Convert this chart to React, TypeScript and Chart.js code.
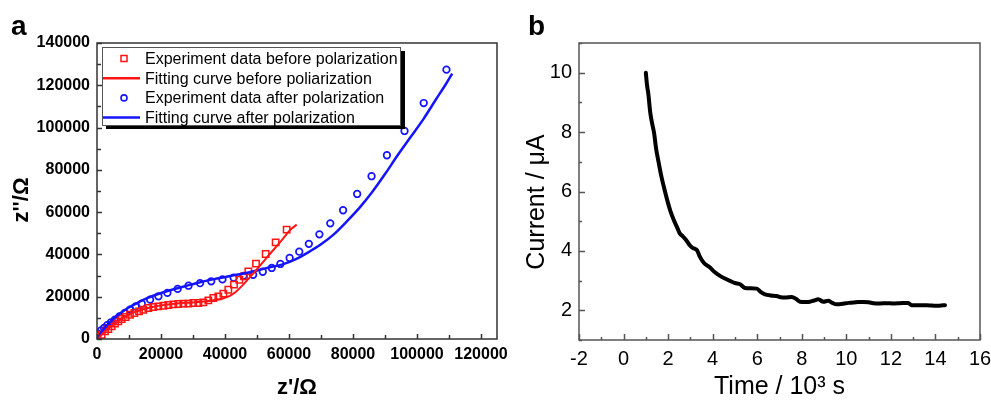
import React, { useEffect, useRef } from "react";
import { Chart, registerables } from "chart.js";

Chart.register(...registerables);

const FONT = "'Liberation Sans', Arial, Helvetica, sans-serif";
const RED = "rgb(255,20,20)";
const BLUE = "rgb(20,20,255)";

// ---------- Panel a : Nyquist plot (Ω) ----------
const aBeforeExp: [number, number][] = [
  [1460, 2030], [2500, 3610], [3540, 4720], [4580, 5980], [5630, 7240], [6670, 8340],
  [7710, 9450], [8960, 10390], [10310, 11490], [11670, 12280], [13130, 13070], [14480, 13860],
  [16040, 14650], [17600, 15120], [19170, 15440], [20730, 15750], [22290, 16070], [23850, 16380],
  [25420, 16540], [26980, 16700], [28540, 16700], [30100, 17010], [31670, 17010], [33230, 17330],
  [34790, 18270], [36350, 19380], [37920, 20170], [39480, 21430], [41040, 23320], [42810, 25690],
  [44480, 28050], [45940, 29630], [47290, 31990], [49690, 35620], [52710, 40190], [55830, 45710],
  [59270, 51700],
];
const aBeforeFit: [number, number][] = [
  [400, 0], [1500, 2200], [3000, 4300], [6000, 7800], [9500, 11200], [13500, 13600],
  [17000, 15000], [20000, 15900], [25000, 16800], [30000, 17300], [34000, 17800], [37000, 18400],
  [39500, 19300], [41500, 20400], [43500, 22500], [45700, 25700], [47800, 29300], [50000, 33000],
  [52000, 36600], [54000, 40200], [56100, 43800], [58200, 47600], [60300, 51500], [62400, 54100],
];
const aAfterExp: [number, number][] = [
  [400, 2500], [1250, 4100], [2200, 5200], [3200, 6500], [4400, 7900], [5600, 9100],
  [7000, 10700], [8700, 12300], [10300, 13900], [12100, 15400], [14000, 16700], [16600, 18600],
  [19200, 20200], [22000, 21800], [25200, 23700], [28600, 25200], [32200, 26400], [35700, 27300],
  [39200, 28200], [42700, 29000], [45800, 29900], [48800, 30400], [51800, 31800], [54600, 33600],
  [57300, 35500], [60200, 38300], [63200, 41300], [66200, 45000], [69500, 49500], [72900, 54700],
  [76900, 60900], [81300, 68600], [85800, 77000], [90600, 86900], [96100, 98400], [102100, 111600],
  [109200, 127400],
];
const aAfterFit: [number, number][] = [
  [0, 0], [400, 500], [1200, 2800], [2500, 5500], [4000, 7900], [5600, 10200], [7500, 12400],
  [9800, 14800], [12500, 17000], [15000, 18900], [18000, 20700], [21000, 22200], [24500, 23800],
  [28000, 25200], [31000, 26400], [34000, 27500], [38000, 28700], [42000, 29900], [46000, 31000],
  [50000, 32400], [54000, 33900], [58000, 35300], [62000, 37700], [66000, 41000], [70000, 44800],
  [74000, 49500], [78000, 55500], [82000, 62000], [86000, 69500], [90000, 78000], [94000, 87000],
  [98000, 95500], [102000, 104000], [106000, 113500], [109000, 120500], [111000, 125500],
];
const aXTicks = [0, 20000, 40000, 60000, 80000, 100000, 120000];
const aYTicks = [0, 20000, 40000, 60000, 80000, 100000, 120000, 140000];
const aLegendLabels = [
  "Experiment data before polarization",
  "Fitting curve before poliarization",
  "Experiment data after polarization",
  "Fitting curve after polarization",
];

// ---------- Panel b : current vs time ----------
const bTime = [
  1.0, 1.05, 1.11, 1.2, 1.28, 1.37, 1.46, 1.57, 1.7, 1.86, 2.0, 2.1, 2.25, 2.4, 2.53, 2.65, 2.76,
  2.87, 2.98, 3.1, 3.2, 3.3, 3.43, 3.6, 3.88, 4.1, 4.33, 4.55, 4.78, 5.0, 5.23, 5.45, 5.7, 5.98,
  6.15, 6.35, 6.6, 6.87, 7.05, 7.25, 7.55, 7.75, 7.92, 8.15, 8.37, 8.55, 8.74, 8.97, 9.19, 9.35,
  9.56, 9.86, 10.1, 10.31, 10.55, 10.76, 11.0, 11.21, 11.5, 11.81, 12.1, 12.41, 12.78, 12.93,
  13.3, 13.6, 13.85, 14.05, 14.25, 14.43,
];
const bCurrent = [
  10.0, 9.6, 9.3, 8.65, 8.3, 7.97, 7.45, 7.0, 6.5, 6.0, 5.6, 5.35, 5.05, 4.8, 4.58, 4.5, 4.41,
  4.3, 4.18, 4.1, 4.07, 4.02, 3.8, 3.6, 3.44, 3.28, 3.16, 3.07, 2.99, 2.92, 2.88, 2.75, 2.74, 2.73,
  2.62, 2.54, 2.5, 2.48, 2.44, 2.43, 2.45, 2.38, 2.29, 2.28, 2.29, 2.33, 2.37, 2.29, 2.32, 2.26,
  2.2, 2.22, 2.25, 2.26, 2.28, 2.28, 2.27, 2.24, 2.23, 2.24, 2.23, 2.24, 2.25, 2.17,
  2.17, 2.17, 2.16, 2.15, 2.16, 2.17,
];
const bXTicks = [-2, 0, 2, 4, 6, 8, 10, 12, 14, 16];
const bYTicks = [2, 4, 6, 8, 10];

// ---------- plugins ----------
const frameTicks = {
  id: "frameTicks",
  afterDatasetsDraw(chart: any, _a: any, o: any) {
    const { ctx, chartArea: ca } = chart;
    const xs = chart.scales.x;
    const ys = chart.scales.y;
    ctx.save();
    ctx.strokeStyle = o.color;
    ctx.lineWidth = o.lineWidth;
    ctx.strokeRect(ca.left, ca.top, ca.right - ca.left, ca.bottom - ca.top);
    ctx.beginPath();
    const isMajor = (v: number, arr: number[]) => arr.some((m) => Math.abs(m - v) < 1e-6 * (Math.abs(m) + 1));
    const nx = Math.floor((xs.max - xs.min) / o.xMinor + 1e-9);
    for (let i = 0; i <= nx; i++) {
      const v = xs.min + i * o.xMinor;
      const len = isMajor(v, o.xMajor) ? o.majorLen : o.minorLen;
      const p = Math.round(xs.getPixelForValue(v)) + 0.5;
      ctx.moveTo(p, ca.bottom);
      ctx.lineTo(p, ca.bottom - len);
    }
    const ny = Math.floor((ys.max - ys.min) / o.yMinor + 1e-9);
    for (let i = 0; i <= ny; i++) {
      const v = ys.min + i * o.yMinor;
      const len = isMajor(v, o.yMajor) ? o.majorLen : o.minorLen;
      const p = Math.round(ys.getPixelForValue(v)) + 0.5;
      ctx.moveTo(ca.left, p);
      ctx.lineTo(ca.left + len, p);
    }
    ctx.stroke();
    ctx.restore();
  },
};

const extras = {
  id: "extras",
  afterDraw(chart: any, _a: any, o: any) {
    const { ctx, chartArea: ca } = chart;
    ctx.save();
    // legend box
    if (o.legend) {
      const L = o.legend;
      const x = ca.left + L.dx;
      const y = ca.top + L.dy;
      ctx.fillStyle = "#000";
      ctx.fillRect(x + 4, y + L.h, L.w, 4);
      ctx.fillRect(x + L.w - 1, y + 4, 5, L.h);
      ctx.fillStyle = "#fff";
      ctx.fillRect(x, y, L.w, L.h);
      ctx.strokeStyle = "#555";
      ctx.lineWidth = 1;
      ctx.strokeRect(x + 0.5, y + 0.5, L.w - 1, L.h);
      ctx.font = `16px ${FONT}`;
      ctx.textBaseline = "middle";
      ctx.textAlign = "left";
      L.items.forEach((it: any, i: number) => {
        const cy = y + L.first + i * L.gap;
        ctx.strokeStyle = it.color;
        if (it.kind === "line") {
          ctx.lineWidth = 2.5;
          ctx.beginPath();
          ctx.moveTo(x + 1, cy);
          ctx.lineTo(x + 38, cy);
          ctx.stroke();
        } else if (it.kind === "rect") {
          ctx.lineWidth = 1.5;
          ctx.strokeRect(x + 19, cy - 3, 6, 6);
        } else {
          ctx.lineWidth = 1.6;
          ctx.beginPath();
          ctx.arc(x + 22, cy, 3, 0, Math.PI * 2);
          ctx.stroke();
        }
        ctx.fillStyle = "#000";
        ctx.fillText(it.text, x + 43, cy + 1);
      });
    }
    // vertical axis title
    if (o.yTitle) {
      const t = o.yTitle;
      ctx.save();
      ctx.translate(t.x, t.y);
      ctx.rotate(-Math.PI / 2);
      ctx.font = t.font;
      ctx.fillStyle = "#000";
      ctx.textAlign = "center";
      ctx.textBaseline = "middle";
      ctx.fillText(t.text, 0, 0);
      ctx.restore();
    }
    // panel letter
    if (o.panel) {
      ctx.font = `bold 28px ${FONT}`;
      ctx.fillStyle = "#000";
      ctx.textAlign = "left";
      ctx.textBaseline = "alphabetic";
      ctx.fillText(o.panel.text, o.panel.x, o.panel.y);
    }
    ctx.restore();
  },
};

const pts = (arr: [number, number][]) => arr.map(([x, y]) => ({ x, y }));

export default function App() {
  const refA = useRef<HTMLCanvasElement>(null);
  const refB = useRef<HTMLCanvasElement>(null);

  useEffect(() => {
    const tickFontA = { family: FONT, size: 16, weight: "bold" as const };
    const chartA = new Chart(refA.current as HTMLCanvasElement, {
      type: "scatter",
      data: {
        datasets: [
          {
            label: aLegendLabels[1],
            data: pts(aBeforeFit),
            showLine: true,
            pointRadius: 0,
            borderColor: RED,
            borderWidth: 2,
            cubicInterpolationMode: "monotone",
          },
          {
            label: aLegendLabels[3],
            data: pts(aAfterFit),
            showLine: true,
            pointRadius: 0,
            borderColor: BLUE,
            borderWidth: 2.5,
            cubicInterpolationMode: "monotone",
          },
          {
            label: aLegendLabels[0],
            data: pts(aBeforeExp),
            showLine: false,
            pointStyle: "rect",
            pointRadius: 4.5,
            pointBorderWidth: 1.5,
            pointBorderColor: RED,
            pointBackgroundColor: "rgba(0,0,0,0)",
            borderColor: RED,
          },
          {
            label: aLegendLabels[2],
            data: pts(aAfterExp),
            showLine: false,
            pointStyle: "circle",
            pointRadius: 3.3,
            pointBorderWidth: 1.7,
            pointBorderColor: BLUE,
            pointBackgroundColor: "rgba(0,0,0,0)",
            borderColor: BLUE,
          },
        ],
      } as any,
      options: {
        responsive: false,
        animation: false,
        devicePixelRatio: 1,
        layout: { padding: { top: 43, right: 23, bottom: 0, left: 0 } },
        plugins: {
          legend: { display: false },
          tooltip: { enabled: false },
          frameTicks: {
            color: "#333",
            lineWidth: 1.5,
            xMajor: aXTicks,
            yMajor: aYTicks,
            xMinor: 10000,
            yMinor: 10000,
            majorLen: 5,
            minorLen: 4,
          },
          extras: {
            legend: {
              dx: 5,
              dy: 4,
              w: 299,
              h: 78,
              first: 11.5,
              gap: 19.7,
              items: [
                { kind: "rect", color: RED, text: aLegendLabels[0] },
                { kind: "line", color: RED, text: aLegendLabels[1] },
                { kind: "circle", color: BLUE, text: aLegendLabels[2] },
                { kind: "line", color: BLUE, text: aLegendLabels[3] },
              ],
            },
            yTitle: { text: "z''/Ω", x: 22, y: 200, font: `bold 22px ${FONT}` },
            panel: { text: "a", x: 11, y: 35 },
          },
        } as any,
        scales: {
          x: {
            type: "linear",
            min: 0,
            max: 125000,
            grid: { display: false, drawTicks: false },
            border: { display: false },
            afterBuildTicks: (s: any) => {
              s.ticks = aXTicks.map((v) => ({ value: v }));
            },
            afterFit: (s: any) => {
              s.height = 61;
              s.paddingLeft = 0;
              s.paddingRight = 0;
            },
            ticks: {
              padding: 6,
              color: "#000",
              font: tickFontA,
              maxRotation: 0,
              autoSkip: false,
              callback: (v: any) => String(v),
            },
            title: {
              display: true,
              text: "z'/Ω",
              color: "#000",
              font: { family: FONT, size: 22, weight: "bold", lineHeight: 1 },
              padding: { top: 0, bottom: 1 },
            },
          },
          y: {
            type: "linear",
            min: 0,
            max: 140000,
            grid: { display: false, drawTicks: false },
            border: { display: false },
            afterBuildTicks: (s: any) => {
              s.ticks = aYTicks.map((v) => ({ value: v }));
            },
            afterFit: (s: any) => {
              s.width = 97;
              s.paddingTop = 0;
              s.paddingBottom = 0;
            },
            ticks: {
              padding: 7,
              color: "#000",
              font: tickFontA,
              autoSkip: false,
              callback: (v: any) => String(v),
            },
          },
        },
      },
      plugins: [frameTicks, extras],
    });

    const chartB = new Chart(refB.current as HTMLCanvasElement, {
      type: "scatter",
      data: {
        datasets: [
          {
            label: "Current",
            data: bTime.map((t, i) => ({ x: t, y: bCurrent[i] })),
            showLine: true,
            pointRadius: 0,
            borderColor: "#000",
            borderWidth: 4,
            borderCapStyle: "round",
            borderJoinStyle: "round",
            cubicInterpolationMode: "monotone",
          },
        ],
      } as any,
      options: {
        responsive: false,
        animation: false,
        devicePixelRatio: 1,
        layout: { padding: { top: 43, right: 11, bottom: 0, left: 0 } },
        plugins: {
          legend: { display: false },
          tooltip: { enabled: false },
          frameTicks: {
            color: "#555",
            lineWidth: 1.5,
            xMajor: bXTicks,
            yMajor: bYTicks,
            xMinor: 1,
            yMinor: 1,
            majorLen: 6,
            minorLen: 3,
          },
          extras: {
            yTitle: { text: "Current / μA", x: 37, y: 202, font: `25px ${FONT}` },
            panel: { text: "b", x: 28, y: 35 },
          },
        } as any,
        scales: {
          x: {
            type: "linear",
            min: -2,
            max: 16,
            grid: { display: false, drawTicks: false },
            border: { display: false },
            afterBuildTicks: (s: any) => {
              s.ticks = bXTicks.map((v) => ({ value: v }));
            },
            afterFit: (s: any) => {
              s.height = 60;
              s.paddingLeft = 0;
              s.paddingRight = 0;
            },
            ticks: {
              padding: 7,
              color: "#000",
              font: { family: FONT, size: 20 },
              maxRotation: 0,
              autoSkip: false,
            },
            title: {
              display: true,
              text: "Time / 10³ s",
              color: "#000",
              font: { family: FONT, size: 25, lineHeight: 1 },
              padding: { top: 0, bottom: 0 },
            },
          },
          y: {
            type: "linear",
            min: 1,
            max: 11,
            grid: { display: false, drawTicks: false },
            border: { display: false },
            afterBuildTicks: (s: any) => {
              s.ticks = bYTicks.map((v) => ({ value: v }));
            },
            afterFit: (s: any) => {
              s.width = 79;
              s.paddingTop = 0;
              s.paddingBottom = 0;
            },
            ticks: {
              padding: 7,
              color: "#000",
              font: { family: FONT, size: 20 },
              autoSkip: false,
            },
          },
        },
      },
      plugins: [frameTicks, extras],
    });

    return () => {
      chartA.destroy();
      chartB.destroy();
    };
  }, []);

  return (
    <div
      style={{
        position: "absolute",
        left: 0,
        top: 0,
        width: 991,
        height: 400,
        overflow: "hidden",
        background: "#fff",
      }}
    >
      <canvas
        ref={refA}
        width={520}
        height={400}
        style={{ position: "absolute", left: 0, top: 0, width: 520, height: 400 }}
      />
      <canvas
        ref={refB}
        width={491}
        height={400}
        style={{ position: "absolute", left: 500, top: 0, width: 491, height: 400 }}
      />
    </div>
  );
}
